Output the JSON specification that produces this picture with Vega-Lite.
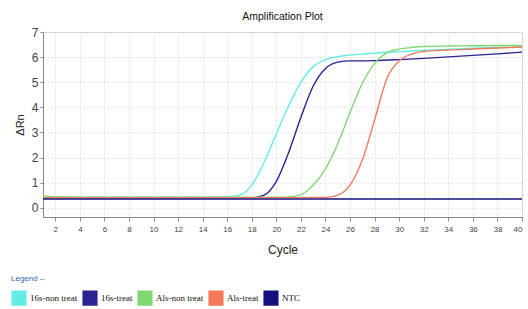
{
  "$schema": "https://vega.github.io/schema/vega-lite/v6.json",
  "autosize": {"type": "none"},
  "width": 479,
  "height": 185,
  "padding": {"left": 43, "top": 32, "right": 6, "bottom": 92},
  "background": "white",
  "title": {"text": "Amplification Plot", "fontSize": 10.5, "fontWeight": "normal", "font": "Liberation Sans", "color": "#111", "offset": 4},
  "config": {
    "view": {"stroke": "#c8c8c8", "strokeWidth": 1},
    "axis": {"gridDash": [2, 2], "gridColor": "#e0e0e0", "domainColor": "#888", "tickColor": "#888", "labelFont": "Liberation Sans", "titleFont": "Liberation Sans", "labelColor": "#444", "titleColor": "#222", "titleFontWeight": "normal"}
  },
  "data": {"values": [
    {"cycle": 1, "series": "16s-non treat", "rn": 0.42},
    {"cycle": 5, "series": "16s-non treat", "rn": 0.42},
    {"cycle": 10, "series": "16s-non treat", "rn": 0.42},
    {"cycle": 15, "series": "16s-non treat", "rn": 0.43},
    {"cycle": 16, "series": "16s-non treat", "rn": 0.44},
    {"cycle": 17, "series": "16s-non treat", "rn": 0.5},
    {"cycle": 18, "series": "16s-non treat", "rn": 0.9},
    {"cycle": 19, "series": "16s-non treat", "rn": 1.8},
    {"cycle": 20, "series": "16s-non treat", "rn": 2.95},
    {"cycle": 21, "series": "16s-non treat", "rn": 4.05},
    {"cycle": 22, "series": "16s-non treat", "rn": 5.0},
    {"cycle": 23, "series": "16s-non treat", "rn": 5.62},
    {"cycle": 24, "series": "16s-non treat", "rn": 5.9},
    {"cycle": 25, "series": "16s-non treat", "rn": 6.02},
    {"cycle": 26, "series": "16s-non treat", "rn": 6.08},
    {"cycle": 27, "series": "16s-non treat", "rn": 6.12},
    {"cycle": 28, "series": "16s-non treat", "rn": 6.16},
    {"cycle": 30, "series": "16s-non treat", "rn": 6.22},
    {"cycle": 32, "series": "16s-non treat", "rn": 6.27},
    {"cycle": 34, "series": "16s-non treat", "rn": 6.31},
    {"cycle": 36, "series": "16s-non treat", "rn": 6.35},
    {"cycle": 38, "series": "16s-non treat", "rn": 6.38},
    {"cycle": 40, "series": "16s-non treat", "rn": 6.4},
    {"cycle": 1, "series": "16s-treat", "rn": 0.4},
    {"cycle": 10, "series": "16s-treat", "rn": 0.4},
    {"cycle": 18, "series": "16s-treat", "rn": 0.4},
    {"cycle": 19, "series": "16s-treat", "rn": 0.5},
    {"cycle": 20, "series": "16s-treat", "rn": 1.05},
    {"cycle": 21, "series": "16s-treat", "rn": 2.2},
    {"cycle": 22, "series": "16s-treat", "rn": 3.6},
    {"cycle": 23, "series": "16s-treat", "rn": 4.85},
    {"cycle": 24, "series": "16s-treat", "rn": 5.55},
    {"cycle": 25, "series": "16s-treat", "rn": 5.8},
    {"cycle": 26, "series": "16s-treat", "rn": 5.85},
    {"cycle": 27, "series": "16s-treat", "rn": 5.85},
    {"cycle": 28, "series": "16s-treat", "rn": 5.86},
    {"cycle": 30, "series": "16s-treat", "rn": 5.9},
    {"cycle": 32, "series": "16s-treat", "rn": 5.95},
    {"cycle": 34, "series": "16s-treat", "rn": 6.01},
    {"cycle": 36, "series": "16s-treat", "rn": 6.07},
    {"cycle": 38, "series": "16s-treat", "rn": 6.13},
    {"cycle": 40, "series": "16s-treat", "rn": 6.2},
    {"cycle": 1, "series": "Als-non treat", "rn": 0.47},
    {"cycle": 2, "series": "Als-non treat", "rn": 0.44},
    {"cycle": 5, "series": "Als-non treat", "rn": 0.42},
    {"cycle": 10, "series": "Als-non treat", "rn": 0.42},
    {"cycle": 20, "series": "Als-non treat", "rn": 0.42},
    {"cycle": 21, "series": "Als-non treat", "rn": 0.43},
    {"cycle": 22, "series": "Als-non treat", "rn": 0.52},
    {"cycle": 23, "series": "Als-non treat", "rn": 0.9},
    {"cycle": 24, "series": "Als-non treat", "rn": 1.55},
    {"cycle": 25, "series": "Als-non treat", "rn": 2.55},
    {"cycle": 26, "series": "Als-non treat", "rn": 3.8},
    {"cycle": 27, "series": "Als-non treat", "rn": 4.95},
    {"cycle": 28, "series": "Als-non treat", "rn": 5.75},
    {"cycle": 29, "series": "Als-non treat", "rn": 6.18},
    {"cycle": 30, "series": "Als-non treat", "rn": 6.32},
    {"cycle": 31, "series": "Als-non treat", "rn": 6.38},
    {"cycle": 32, "series": "Als-non treat", "rn": 6.42},
    {"cycle": 34, "series": "Als-non treat", "rn": 6.44},
    {"cycle": 36, "series": "Als-non treat", "rn": 6.45},
    {"cycle": 38, "series": "Als-non treat", "rn": 6.46},
    {"cycle": 40, "series": "Als-non treat", "rn": 6.46},
    {"cycle": 1, "series": "Als-treat", "rn": 0.4},
    {"cycle": 10, "series": "Als-treat", "rn": 0.4},
    {"cycle": 20, "series": "Als-treat", "rn": 0.4},
    {"cycle": 24, "series": "Als-treat", "rn": 0.41},
    {"cycle": 25, "series": "Als-treat", "rn": 0.5},
    {"cycle": 26, "series": "Als-treat", "rn": 0.9},
    {"cycle": 27, "series": "Als-treat", "rn": 1.9},
    {"cycle": 28, "series": "Als-treat", "rn": 3.5},
    {"cycle": 29, "series": "Als-treat", "rn": 5.15},
    {"cycle": 30, "series": "Als-treat", "rn": 5.85},
    {"cycle": 31, "series": "Als-treat", "rn": 6.12},
    {"cycle": 32, "series": "Als-treat", "rn": 6.22},
    {"cycle": 34, "series": "Als-treat", "rn": 6.28},
    {"cycle": 36, "series": "Als-treat", "rn": 6.32},
    {"cycle": 38, "series": "Als-treat", "rn": 6.36},
    {"cycle": 40, "series": "Als-treat", "rn": 6.4},
    {"cycle": 1, "series": "NTC", "rn": 0.35},
    {"cycle": 40, "series": "NTC", "rn": 0.35}
  ]},
  "mark": {"type": "line", "interpolate": "monotone", "strokeWidth": 1.4, "clip": true},
  "encoding": {
    "x": {"field": "cycle", "type": "quantitative", "scale": {"domain": [1, 40], "nice": false, "zero": false},
      "axis": {"title": "Cycle", "values": [2,4,6,8,10,12,14,16,18,20,22,24,26,28,30,32,34,36,38,40], "labelFontSize": 8, "titleFontSize": 12, "titlePadding": 11, "tickSize": 4, "labelPadding": 4}},
    "y": {"field": "rn", "type": "quantitative", "scale": {"domain": [-0.37, 7], "nice": false, "zero": false},
      "axis": {"title": "ΔRn", "values": [0,1,2,3,4,5,6,7], "labelFontSize": 12, "titleFontSize": 11, "titlePadding": 6, "tickSize": 3, "labelPadding": 2}},
    "color": {"field": "series", "type": "nominal",
      "scale": {"domain": ["16s-non treat", "16s-treat", "Als-non treat", "Als-treat", "NTC"], "range": ["#62ece4", "#2a2490", "#7ed872", "#f27a5a", "#15107e"]},
      "legend": {"orient": "none", "legendX": -32, "legendY": 243, "direction": "horizontal", "title": "Legend –", "titleFontSize": 8, "titleColor": "#3a63b0", "titleFontWeight": "normal", "titleFont": "Liberation Sans", "titlePadding": 7,
        "labelFont": "Liberation Serif", "labelFontSize": 9, "labelColor": "#111", "labelOffset": 3, "columnPadding": 2, "symbolType": "square", "symbolSize": 185,
        "encode": {"symbols": {"update": {"fill": {"scale": "color", "field": "value"}, "stroke": {"value": "transparent"}, "shape": {"value": "square"}}}}}
    }
  }
}
